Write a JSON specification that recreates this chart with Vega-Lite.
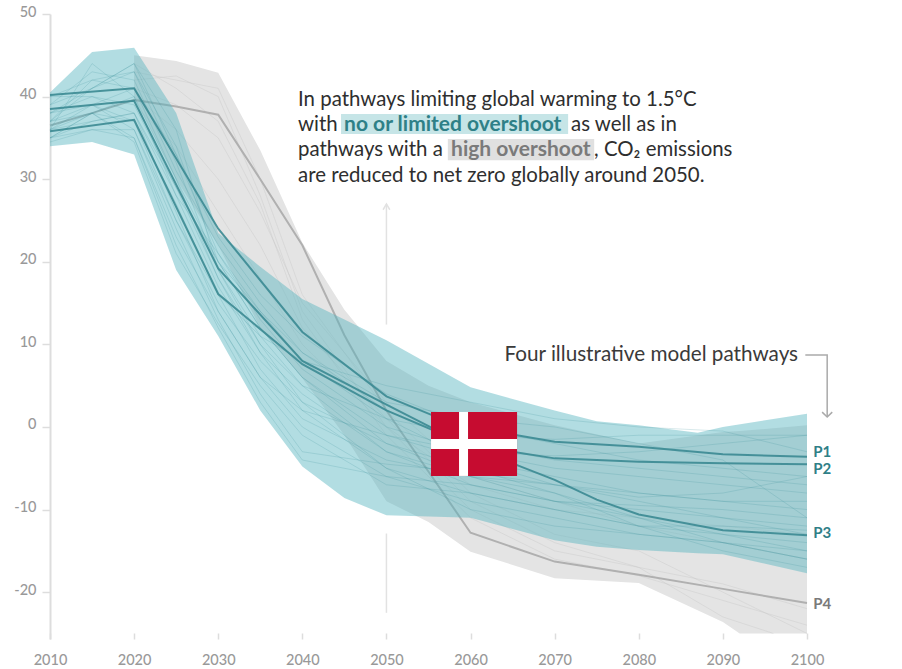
{"$schema":"https://vega.github.io/schema/vega-lite/v6.json","width":757,"height":625,"autosize":"none","padding":{"left":50,"top":14,"right":95,"bottom":30},"background":"white","config":{"view":{"stroke":null},"font":"Lato"},
"datasets":{
"bands":[
{"g":"grey","year":2020,"hi":45,"lo":40},{"g":"grey","year":2025,"hi":44.3,"lo":30},{"g":"grey","year":2030,"hi":42.9,"lo":22},{"g":"grey","year":2035,"hi":33.5,"lo":12},{"g":"grey","year":2040,"hi":22.3,"lo":5.9},{"g":"grey","year":2045,"hi":14.2,"lo":-1},{"g":"grey","year":2050,"hi":8,"lo":-9},{"g":"grey","year":2055,"hi":5,"lo":-11.5},{"g":"grey","year":2060,"hi":3,"lo":-15.1},{"g":"grey","year":2070,"hi":0.2,"lo":-18.3},{"g":"grey","year":2080,"hi":-2,"lo":-18.9},{"g":"grey","year":2090,"hi":-0.6,"lo":-23.6},{"g":"grey","year":2092,"hi":-0.5,"lo":-25},{"g":"grey","year":2100,"hi":0.2,"lo":-25},
{"g":"teal","year":2010,"hi":40.5,"lo":34},{"g":"teal","year":2015,"hi":45.4,"lo":34.5},{"g":"teal","year":2020,"hi":45.9,"lo":33},{"g":"teal","year":2025,"hi":38,"lo":19},{"g":"teal","year":2030,"hi":23.5,"lo":11},{"g":"teal","year":2035,"hi":19.4,"lo":2},{"g":"teal","year":2040,"hi":15.5,"lo":-4.8},{"g":"teal","year":2045,"hi":13,"lo":-8.6},{"g":"teal","year":2050,"hi":10.5,"lo":-10.7},{"g":"teal","year":2060,"hi":4.8,"lo":-11},{"g":"teal","year":2070,"hi":2,"lo":-13.7},{"g":"teal","year":2075,"hi":0.7,"lo":-14.5},{"g":"teal","year":2080,"hi":0.2,"lo":-14.9},{"g":"teal","year":2087,"hi":-0.7,"lo":-15.3},{"g":"teal","year":2090,"hi":0,"lo":-15.4},{"g":"teal","year":2100,"hi":1.6,"lo":-17.7}],
"greyLines":[
{"s":"G1","year":2020,"value":43},{"s":"G1","year":2030,"value":41},{"s":"G1","year":2035,"value":30},{"s":"G1","year":2040,"value":16},{"s":"G1","year":2050,"value":2},{"s":"G1","year":2060,"value":-8},{"s":"G1","year":2070,"value":-13},{"s":"G1","year":2080,"value":-15},{"s":"G1","year":2090,"value":-20},{"s":"G1","year":2100,"value":-25},
{"s":"G2","year":2020,"value":42},{"s":"G2","year":2025,"value":42.5},{"s":"G2","year":2030,"value":40},{"s":"G2","year":2035,"value":28},{"s":"G2","year":2040,"value":14},{"s":"G2","year":2050,"value":0},{"s":"G2","year":2060,"value":-10},{"s":"G2","year":2070,"value":-15},{"s":"G2","year":2080,"value":-17},{"s":"G2","year":2090,"value":-23},{"s":"G2","year":2096,"value":-25},
{"s":"G3","year":2020,"value":41},{"s":"G3","year":2025,"value":39},{"s":"G3","year":2030,"value":35},{"s":"G3","year":2035,"value":26},{"s":"G3","year":2040,"value":15},{"s":"G3","year":2050,"value":3},{"s":"G3","year":2060,"value":-6},{"s":"G3","year":2070,"value":-9},{"s":"G3","year":2080,"value":-12},{"s":"G3","year":2090,"value":-14},{"s":"G3","year":2100,"value":-16},
{"s":"G4","year":2020,"value":40},{"s":"G4","year":2025,"value":36},{"s":"G4","year":2030,"value":30},{"s":"G4","year":2035,"value":22},{"s":"G4","year":2040,"value":12},{"s":"G4","year":2050,"value":1},{"s":"G4","year":2060,"value":-9},{"s":"G4","year":2070,"value":-14},{"s":"G4","year":2080,"value":-17},{"s":"G4","year":2090,"value":-19},{"s":"G4","year":2100,"value":-22},
{"s":"G5","year":2020,"value":44},{"s":"G5","year":2025,"value":41},{"s":"G5","year":2030,"value":37},{"s":"G5","year":2035,"value":27},{"s":"G5","year":2040,"value":13},{"s":"G5","year":2050,"value":-1},{"s":"G5","year":2060,"value":-11},{"s":"G5","year":2070,"value":-16},{"s":"G5","year":2080,"value":-18},{"s":"G5","year":2090,"value":-21},{"s":"G5","year":2100,"value":-24},
{"s":"G6","year":2020,"value":39},{"s":"G6","year":2025,"value":34},{"s":"G6","year":2030,"value":26},{"s":"G6","year":2035,"value":18},{"s":"G6","year":2040,"value":10},{"s":"G6","year":2050,"value":0},{"s":"G6","year":2060,"value":-7},{"s":"G6","year":2070,"value":-10},{"s":"G6","year":2080,"value":-11},{"s":"G6","year":2090,"value":-12},{"s":"G6","year":2100,"value":-13}],
"tealLines":[
{"s":"T1","year":2010,"value":36},{"s":"T1","year":2015,"value":44},{"s":"T1","year":2020,"value":40},{"s":"T1","year":2025,"value":30},{"s":"T1","year":2030,"value":20},{"s":"T1","year":2035,"value":12},{"s":"T1","year":2040,"value":6},{"s":"T1","year":2050,"value":-1},{"s":"T1","year":2060,"value":-4},{"s":"T1","year":2070,"value":-6},{"s":"T1","year":2080,"value":-8},{"s":"T1","year":2090,"value":-9},{"s":"T1","year":2100,"value":-10},
{"s":"T2","year":2010,"value":37},{"s":"T2","year":2015,"value":42},{"s":"T2","year":2020,"value":43},{"s":"T2","year":2025,"value":32},{"s":"T2","year":2030,"value":19},{"s":"T2","year":2035,"value":11},{"s":"T2","year":2040,"value":5},{"s":"T2","year":2050,"value":-3},{"s":"T2","year":2060,"value":-7},{"s":"T2","year":2070,"value":-9},{"s":"T2","year":2080,"value":-10},{"s":"T2","year":2090,"value":-11},{"s":"T2","year":2100,"value":-12},
{"s":"T3","year":2010,"value":38},{"s":"T3","year":2015,"value":41},{"s":"T3","year":2020,"value":44},{"s":"T3","year":2025,"value":33},{"s":"T3","year":2030,"value":21},{"s":"T3","year":2035,"value":13},{"s":"T3","year":2040,"value":7},{"s":"T3","year":2050,"value":0},{"s":"T3","year":2060,"value":-3},{"s":"T3","year":2070,"value":-5},{"s":"T3","year":2080,"value":-6},{"s":"T3","year":2090,"value":-7},{"s":"T3","year":2100,"value":-8},
{"s":"T4","year":2010,"value":35},{"s":"T4","year":2015,"value":38},{"s":"T4","year":2020,"value":40},{"s":"T4","year":2025,"value":28},{"s":"T4","year":2030,"value":17},{"s":"T4","year":2035,"value":9},{"s":"T4","year":2040,"value":2},{"s":"T4","year":2050,"value":-5},{"s":"T4","year":2060,"value":-8},{"s":"T4","year":2070,"value":-10},{"s":"T4","year":2080,"value":-12},{"s":"T4","year":2090,"value":-13},{"s":"T4","year":2100,"value":-14},
{"s":"T5","year":2010,"value":36},{"s":"T5","year":2015,"value":37},{"s":"T5","year":2020,"value":38},{"s":"T5","year":2025,"value":26},{"s":"T5","year":2030,"value":14},{"s":"T5","year":2035,"value":6},{"s":"T5","year":2040,"value":0},{"s":"T5","year":2050,"value":-6},{"s":"T5","year":2060,"value":-9},{"s":"T5","year":2070,"value":-11},{"s":"T5","year":2080,"value":-13},{"s":"T5","year":2090,"value":-14},{"s":"T5","year":2100,"value":-15},
{"s":"T6","year":2010,"value":39},{"s":"T6","year":2015,"value":43},{"s":"T6","year":2020,"value":42},{"s":"T6","year":2025,"value":31},{"s":"T6","year":2030,"value":22},{"s":"T6","year":2035,"value":15},{"s":"T6","year":2040,"value":9},{"s":"T6","year":2050,"value":2},{"s":"T6","year":2060,"value":-2},{"s":"T6","year":2070,"value":-4},{"s":"T6","year":2080,"value":-5},{"s":"T6","year":2090,"value":-6},{"s":"T6","year":2100,"value":-7},
{"s":"T7","year":2010,"value":40},{"s":"T7","year":2015,"value":42},{"s":"T7","year":2020,"value":41},{"s":"T7","year":2025,"value":33},{"s":"T7","year":2030,"value":23},{"s":"T7","year":2035,"value":16},{"s":"T7","year":2040,"value":11},{"s":"T7","year":2050,"value":4},{"s":"T7","year":2060,"value":0},{"s":"T7","year":2070,"value":-2},{"s":"T7","year":2080,"value":-4},{"s":"T7","year":2090,"value":-5},{"s":"T7","year":2100,"value":-6},
{"s":"T8","year":2010,"value":34.5},{"s":"T8","year":2015,"value":36},{"s":"T8","year":2020,"value":36},{"s":"T8","year":2025,"value":24},{"s":"T8","year":2030,"value":13},{"s":"T8","year":2035,"value":4},{"s":"T8","year":2040,"value":-3},{"s":"T8","year":2050,"value":-4.5},{"s":"T8","year":2060,"value":-5.5},{"s":"T8","year":2070,"value":-7},{"s":"T8","year":2080,"value":-9},{"s":"T8","year":2090,"value":-11},{"s":"T8","year":2100,"value":-13},
{"s":"T9","year":2010,"value":35},{"s":"T9","year":2015,"value":36},{"s":"T9","year":2020,"value":35},{"s":"T9","year":2025,"value":22},{"s":"T9","year":2030,"value":12},{"s":"T9","year":2035,"value":3},{"s":"T9","year":2040,"value":-4},{"s":"T9","year":2050,"value":-6},{"s":"T9","year":2060,"value":-7},{"s":"T9","year":2070,"value":-9},{"s":"T9","year":2080,"value":-11},{"s":"T9","year":2090,"value":-13},{"s":"T9","year":2100,"value":-15},
{"s":"T10","year":2010,"value":37},{"s":"T10","year":2015,"value":39},{"s":"T10","year":2020,"value":37},{"s":"T10","year":2025,"value":25},{"s":"T10","year":2030,"value":15},{"s":"T10","year":2035,"value":8},{"s":"T10","year":2040,"value":3},{"s":"T10","year":2050,"value":-2},{"s":"T10","year":2060,"value":-6},{"s":"T10","year":2070,"value":-8},{"s":"T10","year":2080,"value":-11},{"s":"T10","year":2090,"value":-14},{"s":"T10","year":2100,"value":-16},
{"s":"T11","year":2010,"value":38},{"s":"T11","year":2015,"value":40},{"s":"T11","year":2020,"value":39},{"s":"T11","year":2025,"value":29},{"s":"T11","year":2030,"value":18},{"s":"T11","year":2035,"value":10},{"s":"T11","year":2040,"value":5},{"s":"T11","year":2050,"value":1},{"s":"T11","year":2060,"value":-1},{"s":"T11","year":2070,"value":-1.5},{"s":"T11","year":2080,"value":-1},{"s":"T11","year":2090,"value":-1},{"s":"T11","year":2100,"value":-1},
{"s":"T12","year":2010,"value":36},{"s":"T12","year":2015,"value":38},{"s":"T12","year":2020,"value":37},{"s":"T12","year":2025,"value":27},{"s":"T12","year":2030,"value":16},{"s":"T12","year":2035,"value":7},{"s":"T12","year":2040,"value":1},{"s":"T12","year":2050,"value":-4},{"s":"T12","year":2060,"value":-6},{"s":"T12","year":2070,"value":-7},{"s":"T12","year":2080,"value":-8},{"s":"T12","year":2090,"value":-9},{"s":"T12","year":2100,"value":-9},
{"s":"T13","year":2010,"value":39},{"s":"T13","year":2015,"value":41},{"s":"T13","year":2020,"value":43},{"s":"T13","year":2025,"value":34},{"s":"T13","year":2030,"value":20},{"s":"T13","year":2035,"value":12},{"s":"T13","year":2040,"value":6},{"s":"T13","year":2050,"value":-2},{"s":"T13","year":2060,"value":-5},{"s":"T13","year":2070,"value":-8},{"s":"T13","year":2080,"value":-12},{"s":"T13","year":2090,"value":-15},{"s":"T13","year":2100,"value":-17},
{"s":"T14","year":2010,"value":37},{"s":"T14","year":2015,"value":38},{"s":"T14","year":2020,"value":35},{"s":"T14","year":2025,"value":23},{"s":"T14","year":2030,"value":14},{"s":"T14","year":2035,"value":6},{"s":"T14","year":2040,"value":2},{"s":"T14","year":2050,"value":-1},{"s":"T14","year":2060,"value":-3},{"s":"T14","year":2070,"value":-3.5},{"s":"T14","year":2080,"value":-3},{"s":"T14","year":2090,"value":-2},{"s":"T14","year":2100,"value":-1},
{"s":"T15","year":2010,"value":35},{"s":"T15","year":2015,"value":37},{"s":"T15","year":2020,"value":38},{"s":"T15","year":2025,"value":29},{"s":"T15","year":2030,"value":20},{"s":"T15","year":2035,"value":14},{"s":"T15","year":2040,"value":9},{"s":"T15","year":2050,"value":3},{"s":"T15","year":2060,"value":1},{"s":"T15","year":2070,"value":0},{"s":"T15","year":2080,"value":-2},{"s":"T15","year":2090,"value":-4},{"s":"T15","year":2100,"value":-11},
{"s":"T16","year":2010,"value":36},{"s":"T16","year":2015,"value":39},{"s":"T16","year":2020,"value":41},{"s":"T16","year":2025,"value":30},{"s":"T16","year":2030,"value":18},{"s":"T16","year":2035,"value":9},{"s":"T16","year":2040,"value":4},{"s":"T16","year":2050,"value":-3},{"s":"T16","year":2060,"value":-6},{"s":"T16","year":2070,"value":-9},{"s":"T16","year":2080,"value":-9.5},{"s":"T16","year":2090,"value":-10},{"s":"T16","year":2100,"value":-11},
{"s":"T17","year":2010,"value":37},{"s":"T17","year":2015,"value":41},{"s":"T17","year":2020,"value":44},{"s":"T17","year":2025,"value":36},{"s":"T17","year":2030,"value":19},{"s":"T17","year":2035,"value":10},{"s":"T17","year":2040,"value":3},{"s":"T17","year":2050,"value":-5},{"s":"T17","year":2060,"value":-10},{"s":"T17","year":2070,"value":-12},{"s":"T17","year":2080,"value":-13},{"s":"T17","year":2090,"value":-14},{"s":"T17","year":2100,"value":-16},
{"s":"T18","year":2010,"value":38},{"s":"T18","year":2015,"value":39},{"s":"T18","year":2020,"value":36},{"s":"T18","year":2025,"value":25},{"s":"T18","year":2030,"value":16},{"s":"T18","year":2035,"value":11},{"s":"T18","year":2040,"value":8},{"s":"T18","year":2050,"value":5},{"s":"T18","year":2060,"value":3},{"s":"T18","year":2070,"value":1},{"s":"T18","year":2080,"value":0},{"s":"T18","year":2090,"value":-0.5},{"s":"T18","year":2100,"value":-3},
{"s":"T19","year":2010,"value":40},{"s":"T19","year":2015,"value":40},{"s":"T19","year":2020,"value":38},{"s":"T19","year":2025,"value":28},{"s":"T19","year":2030,"value":21},{"s":"T19","year":2035,"value":14},{"s":"T19","year":2040,"value":8},{"s":"T19","year":2050,"value":1},{"s":"T19","year":2060,"value":-4},{"s":"T19","year":2070,"value":-7},{"s":"T19","year":2080,"value":-8.5},{"s":"T19","year":2090,"value":-8},{"s":"T19","year":2100,"value":-6},
{"s":"T20","year":2010,"value":35},{"s":"T20","year":2015,"value":38},{"s":"T20","year":2020,"value":34.5},{"s":"T20","year":2025,"value":21},{"s":"T20","year":2030,"value":12.5},{"s":"T20","year":2035,"value":5},{"s":"T20","year":2040,"value":-1},{"s":"T20","year":2050,"value":-7},{"s":"T20","year":2060,"value":-8},{"s":"T20","year":2070,"value":-10},{"s":"T20","year":2080,"value":-12},{"s":"T20","year":2090,"value":-12},{"s":"T20","year":2100,"value":-12.5}],
"pathways":[
{"s":"P1","year":2010,"value":40.2},{"s":"P1","year":2020,"value":41},{"s":"P1","year":2030,"value":24},{"s":"P1","year":2040,"value":11.5},{"s":"P1","year":2050,"value":3.7},{"s":"P1","year":2056,"value":1.2},{"s":"P1","year":2065,"value":-0.9},{"s":"P1","year":2070,"value":-1.8},{"s":"P1","year":2080,"value":-2.4},{"s":"P1","year":2090,"value":-3.3},{"s":"P1","year":2100,"value":-3.6},
{"s":"P2","year":2010,"value":38.5},{"s":"P2","year":2020,"value":39.5},{"s":"P2","year":2030,"value":19.2},{"s":"P2","year":2040,"value":8},{"s":"P2","year":2050,"value":2.7},{"s":"P2","year":2056,"value":-0.4},{"s":"P2","year":2065,"value":-3},{"s":"P2","year":2070,"value":-3.8},{"s":"P2","year":2080,"value":-4.2},{"s":"P2","year":2090,"value":-4.4},{"s":"P2","year":2100,"value":-4.5},
{"s":"P3","year":2010,"value":35.8},{"s":"P3","year":2020,"value":37.2},{"s":"P3","year":2030,"value":16.1},{"s":"P3","year":2040,"value":7.6},{"s":"P3","year":2050,"value":2},{"s":"P3","year":2056,"value":-0.6},{"s":"P3","year":2065,"value":-4.4},{"s":"P3","year":2070,"value":-6.4},{"s":"P3","year":2075,"value":-8.8},{"s":"P3","year":2080,"value":-10.6},{"s":"P3","year":2090,"value":-12.5},{"s":"P3","year":2100,"value":-13.1}],
"p4":[{"s":"P4","year":2010,"value":36.5},{"s":"P4","year":2015,"value":38},{"s":"P4","year":2020,"value":39.6},{"s":"P4","year":2025,"value":38.8},{"s":"P4","year":2030,"value":37.8},{"s":"P4","year":2035,"value":30},{"s":"P4","year":2040,"value":22},{"s":"P4","year":2045,"value":11.1},{"s":"P4","year":2050,"value":2},{"s":"P4","year":2060,"value":-12.8},{"s":"P4","year":2070,"value":-16.3},{"s":"P4","year":2080,"value":-17.9},{"s":"P4","year":2090,"value":-19.6},{"s":"P4","year":2100,"value":-21.3}],
"leader2050":[{"s":"a","o":1,"year":2050,"value":27},{"s":"a","o":2,"year":2050,"value":12.4},{"s":"b","o":1,"year":2050,"value":-12.9},{"s":"b","o":2,"year":2050,"value":-22.5},{"s":"c","o":1,"year":2049.6,"value":26.3},{"s":"c","o":2,"year":2050,"value":27},{"s":"c","o":3,"year":2050.4,"value":26.3}],
"leaderP":[{"s":"a","o":1,"year":2099.8,"value":8.7},{"s":"a","o":2,"year":2102.4,"value":8.7},{"s":"a","o":3,"year":2102.4,"value":1.2},{"s":"b","o":1,"year":2101.8,"value":1.8},{"s":"b","o":2,"year":2102.4,"value":1.2},{"s":"b","o":3,"year":2103,"value":1.8}],
"highlights":[{"k":"teal","year":2044.6,"year2":2071.6,"value":37.9,"value2":35.47},{"k":"grey","year":2057.3,"year2":2074.7,"value":34.87,"value2":32.3}],
"textPlain":[{"t":"In pathways limiting global warming to 1.5°C","year":2039.49,"value":38.86},{"t":"with","year":2039.49,"value":35.84},{"t":"as well as in","year":2071.95,"value":35.84},{"t":"pathways with a","year":2039.49,"value":32.8},{"t":", CO₂ emissions","year":2074.69,"value":32.8},{"t":"are reduced to net zero globally around 2050.","year":2039.49,"value":29.66}],
"textBold":[{"t":"no or limited overshoot","k":"teal","year":2044.96,"value":35.84},{"t":"high overshoot","k":"grey","year":2057.68,"value":32.8}],
"pLabels":[{"t":"P1","k":"teal","value":-3.03,"year":2100.73},{"t":"P2","k":"teal","value":-5.08,"year":2100.73},{"t":"P3","k":"teal","value":-12.83,"year":2100.73},{"t":"P4","k":"grey","value":-21.43,"year":2100.73}],
"four":[{"t":"Four illustrative model pathways","year":2098.94,"value":8}],
"flag":[{"k":"red","year":2055.3,"year2":2065.53,"value":1.82,"value2":-5.93},{"k":"white","year":2058.63,"year2":2059.7,"value":1.82,"value2":-5.93},{"k":"white","year":2055.3,"year2":2065.53,"value":-1.45,"value2":-2.66}]
},
"encoding":{
"x":{"field":"year","type":"quantitative","title":null,"scale":{"domain":[2010,2100],"nice":false,"zero":false},"axis":{"values":[2010,2020,2030,2040,2050,2060,2070,2080,2090,2100],"format":"d","grid":false,"domain":false,"labelFlush":false,"tickSize":-6,"tickColor":"#dddddd","tickWidth":1.5,"labelColor":"#999999","labelFontSize":14.5,"labelFont":"Lato","labelPadding":20,"labelFontWeight":500}},
"y":{"field":"value","type":"quantitative","title":null,"scale":{"domain":[-25.67,50],"nice":false,"zero":false},"axis":{"values":[-20,-10,0,10,20,30,40,50],"labelExpr":"''+datum.value","labelFlush":false,"labelOffset":-2,"grid":false,"domainColor":"#dddddd","domainWidth":2,"tickColor":"#dddddd","tickSize":8,"tickWidth":1.5,"labelColor":"#999999","labelFontSize":14.5,"labelFont":"Lato","labelPadding":6,"labelFontWeight":500}}
},
"layer":[
{"mark":{"type":"rule","color":"#dddddd","strokeWidth":2},"encoding":{"x":{"value":0},"x2":{"value":757},"y":{"datum":0}}},
{"data":{"name":"leader2050"},"mark":{"type":"line","color":"#e2e2e2","strokeWidth":1.5,"clip":false},"encoding":{"detail":{"field":"s"},"order":{"field":"o"}}},
{"data":{"name":"bands"},"transform":[{"filter":"datum.g==='grey'"}],"mark":{"type":"area","color":"#e4e4e4","opacity":1},"encoding":{"y":{"field":"hi","type":"quantitative"},"y2":{"field":"lo"}}},
{"data":{"name":"greyLines"},"mark":{"type":"line","color":"#c4c4c4","strokeWidth":1,"opacity":0.35},"encoding":{"detail":{"field":"s"}}},
{"data":{"name":"p4"},"mark":{"type":"line","color":"#b0b0b0","strokeWidth":2},"encoding":{"detail":{"field":"s"}}},
{"data":{"name":"bands"},"transform":[{"filter":"datum.g==='teal'"}],"mark":{"type":"area","color":"#54b3bf","opacity":0.45},"encoding":{"y":{"field":"hi","type":"quantitative"},"y2":{"field":"lo"}}},
{"data":{"name":"tealLines"},"mark":{"type":"line","color":"#3a919c","strokeWidth":1,"opacity":0.2},"encoding":{"detail":{"field":"s"}}},
{"data":{"name":"pathways"},"mark":{"type":"line","color":"#3b8a92","strokeWidth":2,"opacity":0.9},"encoding":{"detail":{"field":"s"}}},
{"data":{"name":"leaderP"},"mark":{"type":"line","color":"#aaaaaa","strokeWidth":1.5,"clip":false},"encoding":{"detail":{"field":"s"},"order":{"field":"o"}}},
{"data":{"name":"highlights"},"mark":{"type":"rect"},"encoding":{"x2":{"field":"year2"},"y2":{"field":"value2"},"color":{"field":"k","type":"nominal","legend":null,"scale":{"domain":["teal","grey"],"range":["#c6e5e7","#e0e0e0"]}}}},
{"data":{"name":"textPlain"},"mark":{"type":"text","align":"left","baseline":"alphabetic","fontSize":20.4,"font":"Lato","color":"#2e2e2e"},"encoding":{"text":{"field":"t"}}},
{"data":{"name":"textBold"},"mark":{"type":"text","align":"left","baseline":"alphabetic","fontSize":21,"font":"Lato","fontWeight":"bold"},"encoding":{"text":{"field":"t"},"color":{"field":"k","type":"nominal","legend":null,"scale":{"domain":["teal","grey"],"range":["#2f8087","#7a7a7a"]}}}},
{"data":{"name":"four"},"mark":{"type":"text","align":"right","baseline":"alphabetic","fontSize":20.7,"font":"Lato","color":"#3a3a3a"},"encoding":{"text":{"field":"t"}}},
{"data":{"name":"pLabels"},"mark":{"type":"text","align":"left","baseline":"middle","fontSize":15,"font":"Lato","fontWeight":"bold"},"encoding":{"text":{"field":"t"},"color":{"field":"k","type":"nominal","legend":null,"scale":{"domain":["teal","grey"],"range":["#2f8087","#7a7a7a"]}}}},
{"data":{"name":"flag"},"mark":{"type":"rect"},"encoding":{"x2":{"field":"year2"},"y2":{"field":"value2"},"color":{"field":"k","type":"nominal","legend":null,"scale":{"domain":["red","white"],"range":["#C60C30","#ffffff"]}}}}
],
"resolve":{"scale":{"color":"independent"}}}
